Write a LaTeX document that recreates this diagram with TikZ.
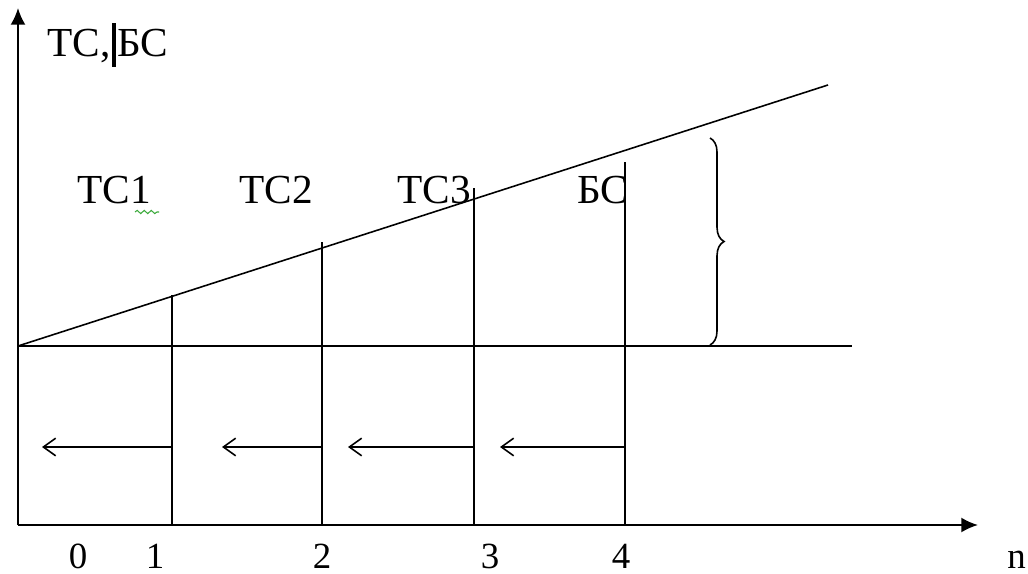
\documentclass[tikz,border=0pt]{standalone}
\usepackage{fontspec}
\setmainfont{Liberation Serif}
\usetikzlibrary{arrows.meta,decorations.pathreplacing,decorations.pathmorphing}
\definecolor{clrSpell}{RGB}{60,170,60}
\tikzset{
  axis/.style={-{Latex[length=9.5pt,width=8.5pt]},line width=1.1pt},
  curve/.style={line width=0.9pt},
  guide/.style={line width=0.9pt},
  movearrow/.style={-{Straight Barb[length=7pt,width=10pt,line width=0.9pt]},line width=0.9pt},
  lbl/.style={font=\fontsize{23.5}{27}\selectfont,inner sep=0pt,anchor=base},
  tick/.style={font=\fontsize{21}{24}\selectfont,inner sep=0pt,anchor=base}
}
\begin{document}
\begin{tikzpicture}[x=0.02cm,y=-0.02cm]
  \useasboundingbox (0,0) rectangle (1028,574);
  % axes
  \coordinate (O) at (18,525);
  \coordinate (ytop) at (18,8);
  \coordinate (xend) at (978,525);
  \draw[axis] (O) -- (ytop);
  \draw[axis] (O) -- (xend);
  \node[lbl,anchor=base west] (ylab) at (47,57)
    {ТС,\kern1pt\rule[-0.2cm]{0.07cm}{0.88cm}\kern1pt БС};
  \node[tick] (n0) at (78,568) {0};
  \node[tick] (n1) at (155,568) {1};
  \node[tick] (n2) at (322,568) {2};
  \node[tick] (n3) at (490,568) {3};
  \node[tick] (n4) at (621,568) {4};
  \node[tick,anchor=base west] (nn) at (1007,568) {n};
  % base level and rising line
  \coordinate (b0) at (18,346);
  \coordinate (bend) at (852,346);
  \coordinate (send) at (828,85);
  \draw[curve] (b0) -- (bend);
  \draw[curve] (b0) -- (send);
  % vertical levels
  \coordinate (v1) at (172,525); \coordinate (w1) at (172,295);
  \coordinate (v2) at (322,525); \coordinate (w2) at (322,242);
  \coordinate (v3) at (474,525); \coordinate (w3) at (474,188);
  \coordinate (v4) at (625,525); \coordinate (w4) at (625,162);
  \draw[guide] (v1) -- (w1);
  \draw[guide] (v2) -- (w2);
  \draw[guide] (v3) -- (w3);
  \draw[guide] (v4) -- (w4);
  % labels
  \node[lbl] (tc1) at (114,204) {ТС1};
  \node[lbl] (tc2) at (276,204) {ТС2};
  \node[lbl] (tc3) at (434,204) {ТС3};
  \node[lbl] (bs) at (603,204) {БС};
  \draw[clrSpell,line width=0.6pt,decorate,
    decoration={snake,amplitude=0.9pt,segment length=4pt}] (135,212) -- (159,212);
  % brace
  \coordinate (br1) at (710,138);
  \coordinate (br2) at (710,345);
  \draw[line width=0.9pt,decorate,decoration={brace,amplitude=8pt}] (br1) -- (br2);
  % shifts
  \coordinate (m1) at (172,447); \coordinate (a1) at (42,447);
  \coordinate (m2) at (322,447); \coordinate (a2) at (222,447);
  \coordinate (m3) at (474,447); \coordinate (a3) at (348,447);
  \coordinate (m4) at (625,447); \coordinate (a4) at (500,447);
  \draw[movearrow] (m1) -- (a1);
  \draw[movearrow] (m2) -- (a2);
  \draw[movearrow] (m3) -- (a3);
  \draw[movearrow] (m4) -- (a4);
\end{tikzpicture}
\end{document}
